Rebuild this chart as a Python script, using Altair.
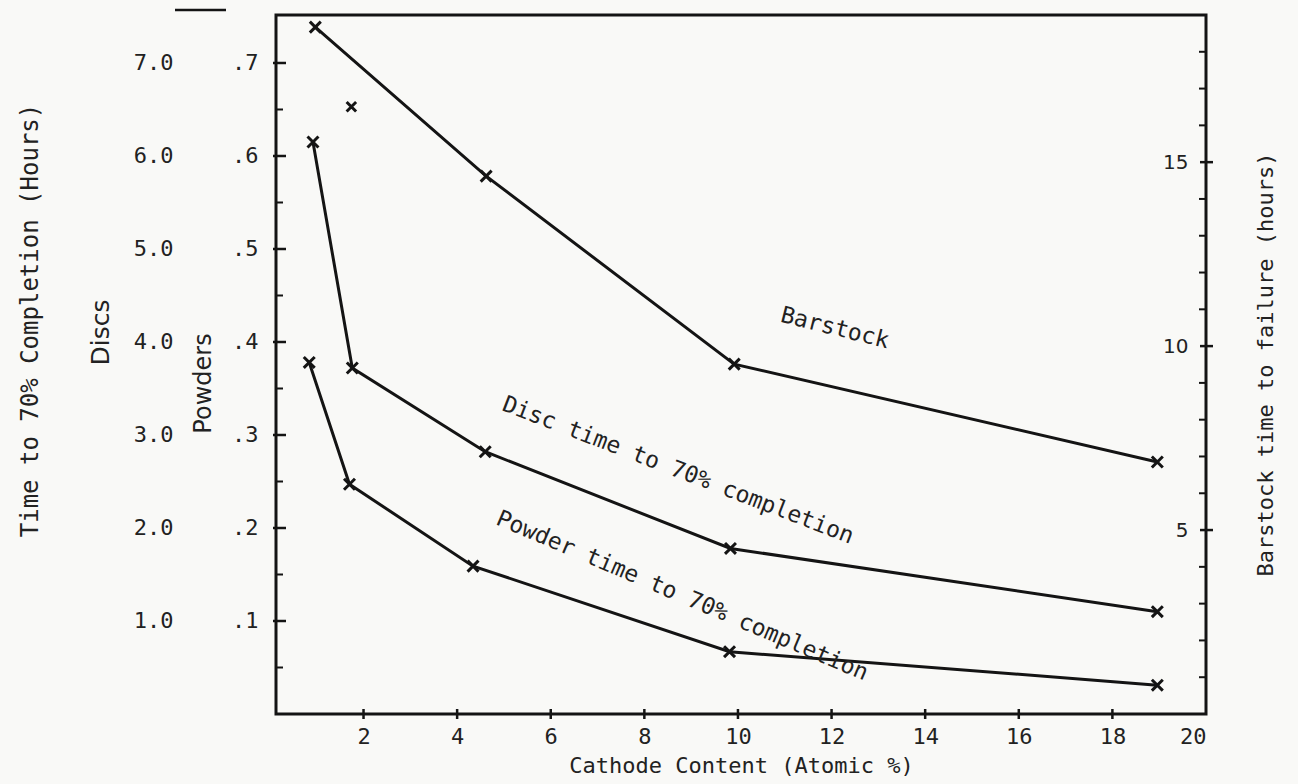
import altair as alt
import pandas as pd

# Cathode content (atomic %) and time to 70 % completion, powders (hours)
powder_x = [0.84, 1.70, 4.34, 9.82, 18.96]
powder_t = [0.378, 0.247, 0.159, 0.067, 0.031]

# Cathode content (atomic %) and time to 70 % completion, discs (hours)
disc_x = [0.92, 1.76, 4.60, 9.84, 18.96]
disc_t = [6.15, 3.72, 2.82, 1.78, 1.10]

# Cathode content (atomic %) and barstock time to failure (hours)
bar_x = [0.97, 4.62, 9.92, 18.96]
bar_t = [18.67, 14.62, 9.51, 6.85]

# Unconnected point plotted on the powders scale
extra_x = [1.74]
extra_t = [0.653]

x_ticks = [2, 4, 6, 8, 10, 12, 14, 16, 18]
x_labels = [2, 4, 6, 8, 10, 12, 14, 16, 18, 20]
powder_major = [0.1, 0.2, 0.3, 0.4, 0.5, 0.6, 0.7]
powder_minor = [0.05, 0.15, 0.25, 0.35, 0.45, 0.55, 0.65]
disc_labels = [1, 2, 3, 4, 5, 6, 7]
bar_major = [5, 10, 15]
bar_minor = [1, 2, 3, 4, 6, 7, 8, 9, 11, 12, 13, 14, 16, 17, 18]

MONO = "DejaVu Sans Mono"
SANS = "DejaVu Sans"
INK = "#141414"
TXT = "#222222"

POW_DOM = [0, 0.7516]
DISC_DOM = [0, 7.516]
BAR_DOM = [0, 19.0]

X = alt.X(
    "x:Q",
    scale=alt.Scale(domain=[0.13, 20.0], nice=False, zero=False),
    axis=alt.Axis(
        values=x_labels, ticks=False, domain=False, grid=False,
        labelFont=MONO, labelFontSize=22, labelColor=TXT, labelPadding=12,
        title="Cathode Content (Atomic %)", titleFont=MONO, titleFontSize=22,
        titleFontWeight="normal", titleColor=TXT, titleY=51, titleBaseline="middle",
    ),
)

CROSS = "M-1,-1L1,1M1,-1L-1,1"
pt = alt.OverlayMarkDef(shape=CROSS, size=120, filled=False, opacity=1,
                        stroke=INK, strokeWidth=3)


def y_of(field, dom, axis=None):
    return alt.Y(f"{field}:Q", scale=alt.Scale(domain=dom, nice=False, zero=False), axis=axis)


powders = alt.Chart(pd.DataFrame({"x": powder_x, "p": powder_t})).mark_line(
    color=INK, strokeWidth=3, point=pt
).encode(
    x=X,
    y=y_of("p", POW_DOM, alt.Axis(
        orient="left", values=powder_major, ticks=False, domain=False, grid=False,
        labelExpr="replace(format(datum.value, '.1f'), '0.', '.')",
        labelFont=MONO, labelFontSize=22, labelColor=TXT, labelPadding=18,
        title="Powders", titleFont=SANS, titleFontSize=24, titleFontWeight="normal",
        titleColor=TXT, titleX=-73, titleY=368, titleBaseline="middle",
    )),
)

discs = alt.Chart(pd.DataFrame({"x": disc_x, "d": disc_t})).mark_line(
    color=INK, strokeWidth=3, point=pt
).encode(
    x=X,
    y=y_of("d", DISC_DOM, alt.Axis(
        orient="left", offset=90, values=disc_labels, ticks=False, domain=False, grid=False,
        format=".1f", labelFont=MONO, labelFontSize=22, labelColor=TXT, labelPadding=13,
        title="Discs", titleFont=SANS, titleFontSize=25, titleFontWeight="normal",
        titleColor=TXT, titleX=-86, titleY=317, titleBaseline="middle",
    )),
)

barstock = alt.Chart(pd.DataFrame({"x": bar_x, "b": bar_t})).mark_line(
    color=INK, strokeWidth=3, point=pt
).encode(
    x=X,
    y=y_of("b", BAR_DOM, alt.Axis(
        orient="left", offset=-930, values=bar_major, ticks=False, domain=False, grid=False,
        labelFont=SANS, labelFontSize=20, labelColor=TXT, labelPadding=18,
        title="Barstock time to failure (hours)", titleFont=MONO, titleFontSize=22,
        titleFontWeight="normal", titleColor=TXT, titleX=59, titleY=349,
        titleBaseline="middle",
    )),
)

extra = alt.Chart(pd.DataFrame({"x": extra_x, "p": extra_t})).mark_point(
    shape=CROSS, size=90, filled=False, opacity=1, color=INK, stroke=INK, strokeWidth=3
).encode(
    x=X,
    y=y_of("p", POW_DOM, alt.Axis(
        orient="left", offset=200, labels=False, ticks=False, domain=False, grid=False,
        title="Time to 70% Completion (Hours)", titleFont=MONO, titleFontSize=24,
        titleFontWeight="normal", titleColor=TXT, titleX=-46, titleY=305,
        titleBaseline="middle",
    )),
)

# Tick marks drawn across / inside the frame
left_major = alt.Chart(pd.DataFrame({"p": powder_major})).mark_rule(
    color=INK, strokeWidth=2.5
).encode(y=y_of("p", POW_DOM), x=alt.value(-3), x2=alt.value(10))
left_minor = alt.Chart(pd.DataFrame({"p": powder_minor})).mark_rule(
    color=INK, strokeWidth=2
).encode(y=y_of("p", POW_DOM), x=alt.value(0), x2=alt.value(7))
right_major = alt.Chart(pd.DataFrame({"b": bar_major})).mark_rule(
    color=INK, strokeWidth=2.5
).encode(y=y_of("b", BAR_DOM), x=alt.value(924), x2=alt.value(937))
right_minor = alt.Chart(pd.DataFrame({"b": bar_minor})).mark_rule(
    color=INK, strokeWidth=2
).encode(y=y_of("b", BAR_DOM), x=alt.value(923), x2=alt.value(930))
bottom_ticks = alt.Chart(pd.DataFrame({"x": x_ticks})).mark_rule(
    color=INK, strokeWidth=2.5
).encode(x=X, y=alt.value(694), y2=alt.value(704))

# Stray pen stroke above the left axes
dash = alt.Chart(pd.DataFrame({"k": [0]})).mark_rule(color=INK, strokeWidth=2.5).encode(
    x=alt.value(-101), x2=alt.value(-50), y=alt.value(-5)
)


def note(text, x, y, angle):
    return alt.Chart(pd.DataFrame({"x": [x], "p": [y], "t": [text]})).mark_text(
        font=MONO, fontSize=23, color=TXT, angle=angle, align="center", baseline="middle"
    ).encode(x=X, y=y_of("p", POW_DOM), text="t:N")


notes = [
    note("Barstock", 12.07, 0.415, 14),
    note("Disc time to 70% completion", 8.72, 0.262, 21),
    note("Powder time to 70% completion", 8.81, 0.127, 23),
]

chart = alt.layer(
    powders, discs, barstock, extra,
    left_major, left_minor, right_major, right_minor, bottom_ticks, dash,
    *notes,
).resolve_scale(y="independent").properties(
    width=930, height=699,
    padding={"left": 276, "top": 15, "right": 92, "bottom": 70},
    autosize=alt.AutoSizeParams(type="none"),
    background="#f9f9f7",
).configure_view(stroke=INK, strokeWidth=3)

chart.save("out.html", embed_options={"renderer": "svg", "actions": False})
